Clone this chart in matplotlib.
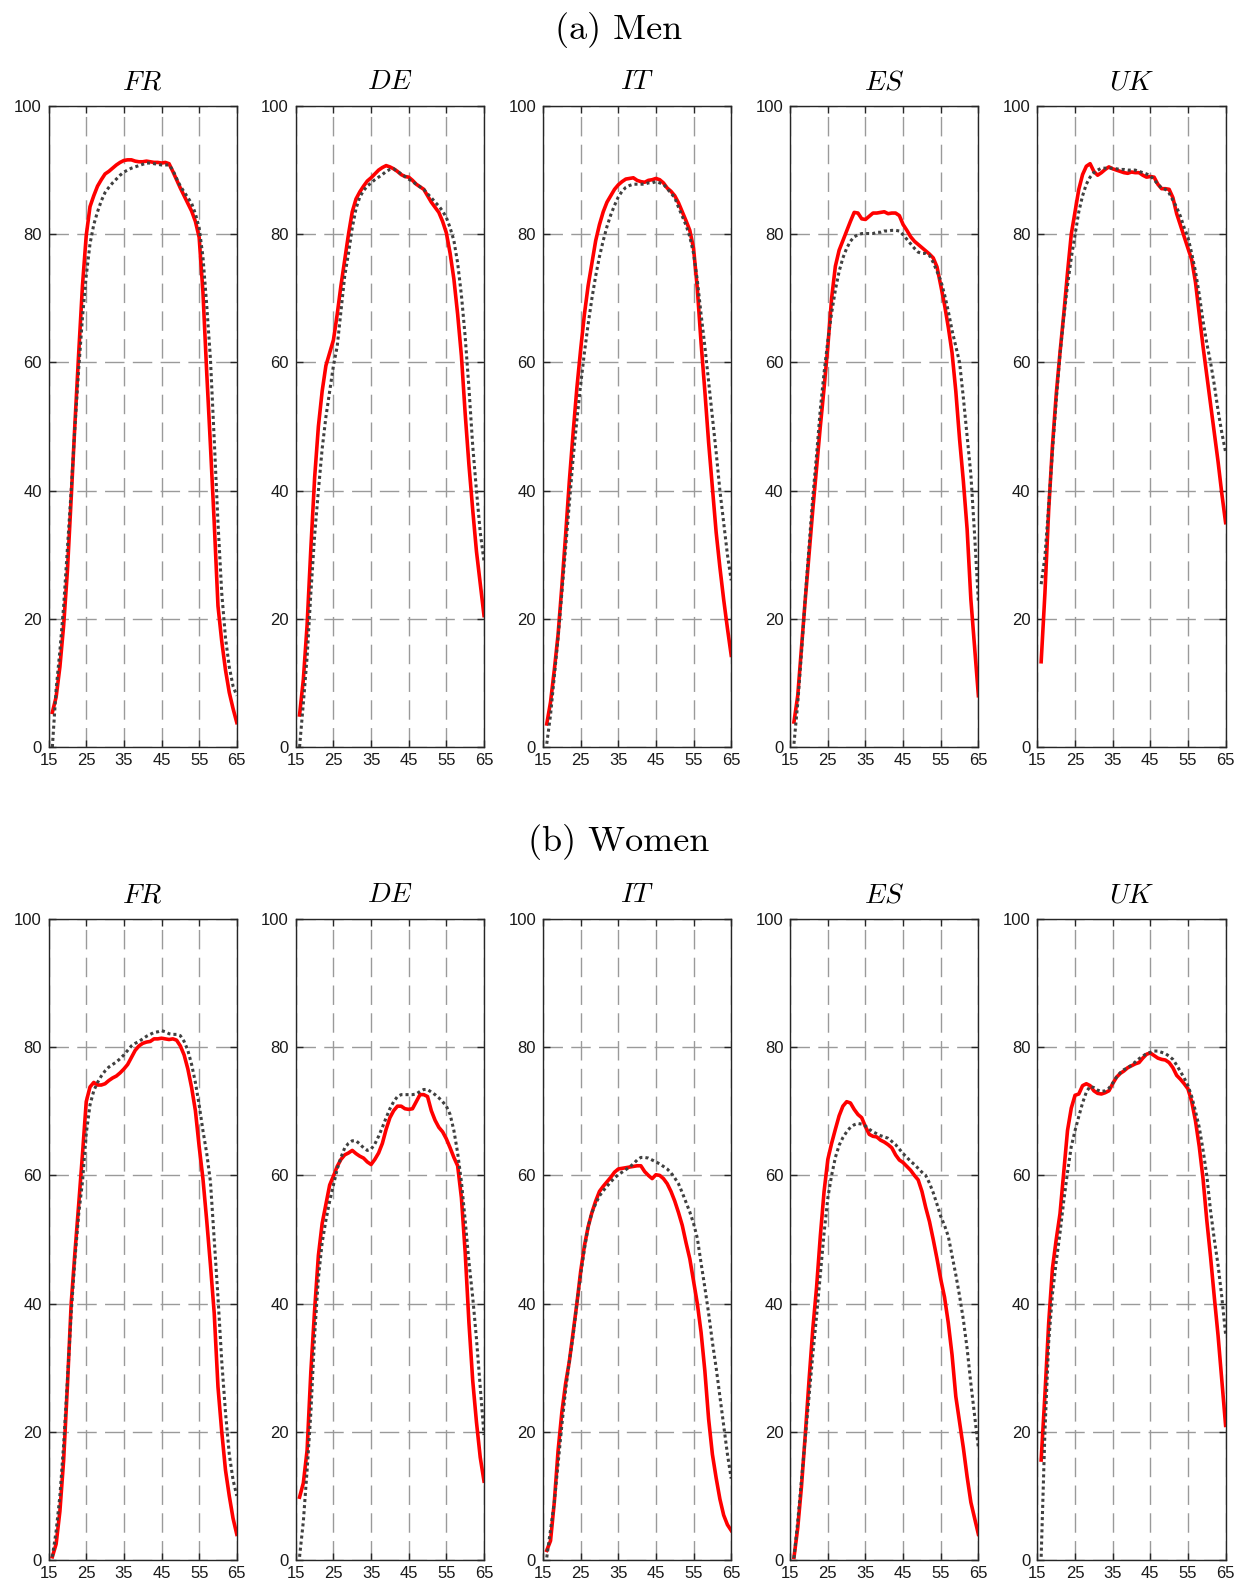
import numpy as np
import matplotlib
matplotlib.use('Agg')
import matplotlib.pyplot as plt

# ages on the x axis (one value per year)
ages = list(range(16, 66))
countries = ['FR', 'DE', 'IT', 'ES', 'UK']

# ---------------- men ----------------
fr_men_solid = [5.4, 7.8, 12.5, 19, 27.5, 38.8, 50.5, 61.5, 72, 79.8,
                84.3, 86, 87.5, 88.5, 89.4, 89.8, 90.3, 90.8, 91.2, 91.5,
                91.6, 91.6, 91.4, 91.3, 91.3, 91.4, 91.3, 91.2, 91.2, 91.1,
                91.2, 91.0, 89.8, 88.5, 87.2, 86, 84.8, 83.6, 82, 79.5,
                71, 58.5, 47, 35, 22, 16.5, 12, 8.5, 6, 3.8]
fr_men_dotted = [0, 9, 15, 22, 31, 40, 50, 59, 67, 73.5,
                 78.5, 81.5, 83.5, 85.2, 86.5, 87.3, 88, 88.6, 89.2, 89.7,
                 90, 90.3, 90.5, 90.7, 90.9, 91.1, 91.1, 91, 90.9, 90.8,
                 90.8, 90.8, 90, 88.7, 87.5, 86.6, 85.7, 84.8, 83.2, 81,
                 76.5, 69, 60.5, 48, 35, 24, 17, 12.5, 9.5, 8]

de_men_solid = [5, 10.5, 19, 31, 42, 50, 55.5, 59.5, 61.5, 63.5,
                67.5, 72, 76, 80, 83.5, 85.5, 86.6, 87.5, 88.3, 88.8,
                89.4, 90, 90.4, 90.7, 90.5, 90.2, 89.8, 89.3, 89, 88.9,
                88.4, 87.8, 87.4, 87, 86, 85, 84.2, 83.4, 82, 80.2,
                77, 73, 67.5, 61, 52, 44, 37, 30.5, 25.5, 20.5]
de_men_dotted = [0, 6.8, 14, 24, 33, 40, 46.5, 51.5, 55.5, 59.5,
                 62.5, 68, 73.5, 77, 81, 84, 85.8, 86.8, 87.5, 88,
                 88.5, 88.9, 89.3, 89.8, 90.1, 90.2, 89.8, 89.4, 89, 88.6,
                 88.2, 87.8, 87.4, 87, 86.3, 85.7, 85, 84.4, 83.6, 82.6,
                 81, 79, 75.5, 70.5, 64, 56, 47, 40, 33.5, 29]

it_men_solid = [3.6, 7, 12, 17.5, 25, 33, 41.5, 49, 56, 62,
                67.5, 72, 75.5, 79, 81.5, 83.5, 85, 86, 87, 87.7,
                88.2, 88.6, 88.7, 88.8, 88.4, 88.2, 88.1, 88.4, 88.5, 88.7,
                88.5, 88, 87.2, 86.7, 86, 84.9, 83.5, 82.1, 80.6, 77.8,
                71.5, 63, 55.5, 47.5, 40.5, 33.5, 28, 23, 18.5, 14.3]
it_men_dotted = [0.5, 5, 11, 17, 24, 31, 38, 45, 51, 56.5,
                 61.5, 66, 70, 73.5, 76.5, 79, 81.2, 83, 84.5, 85.8,
                 86.7, 87.3, 87.6, 87.8, 87.8, 87.8, 87.8, 88, 88, 88.2,
                 88, 87.8, 87.1, 86.4, 85.7, 84.2, 82.8, 81.4, 79.6, 77,
                 72.8, 67.5, 62.5, 57, 51.5, 46, 40, 35, 30, 26]

es_men_solid = [3.9, 8, 15.5, 23, 30, 37, 43.5, 50, 56, 62.5,
                70, 75, 77.5, 79, 80.5, 82, 83.4, 83.3, 82.4, 82.3,
                82.8, 83.3, 83.3, 83.4, 83.5, 83.2, 83.3, 83.3, 82.9, 81.5,
                80.6, 79.6, 78.9, 78.4, 77.9, 77.4, 76.9, 76.3, 74.9, 72,
                69, 65.5, 61.5, 55.5, 48, 41.5, 34, 23, 15.5, 8]
es_men_dotted = [0.5, 6.8, 14.7, 23.3, 31.2, 39, 45.5, 52.7, 58.4, 63.4,
                 67.7, 71.3, 74.2, 76.3, 77.8, 78.9, 79.6, 79.9, 80.1, 80.1,
                 80.1, 80.1, 80.3, 80.3, 80.5, 80.5, 80.6, 80.6, 80.5, 79.9,
                 79.2, 78.5, 77.8, 77.2, 77, 77, 76.7, 75.6, 74.2, 72.8,
                 70.6, 68, 65, 62.5, 60, 54.5, 48.5, 42.5, 33, 22.6]

uk_men_solid = [13.3, 24, 37, 47, 55, 61.5, 67.5, 74, 80, 83.5,
                87, 89.3, 90.6, 91, 89.8, 89.2, 89.6, 90.1, 90.5, 90.2,
                90, 89.8, 89.6, 89.5, 89.7, 89.6, 89.6, 89.2, 88.9, 89,
                88.9, 87.8, 87.1, 87.1, 87, 85.7, 83.2, 81.4, 79.6, 77.8,
                76, 72.5, 67.5, 62.5, 58, 53.5, 49, 44.5, 39.5, 35]
uk_men_dotted = [25.4, 29.7, 37.6, 46.2, 54.1, 61.3, 67, 72, 76.3, 79.9,
                 83.5, 86, 87.8, 88.9, 89.6, 90, 90.3, 90.3, 90.3, 90.3,
                 90.2, 90.1, 90.1, 90, 90, 90, 89.8, 89.6, 89.4, 89.1,
                 88.5, 87.8, 87.2, 87, 86.4, 85.3, 84.2, 82.8, 81, 79.5,
                 77, 74.2, 70.6, 66.5, 63, 60, 56.5, 52.5, 49, 46]

# ---------------- women ----------------
fr_women_solid = [0.5, 2.5, 7.6, 15.6, 27.2, 40, 48, 55.5, 63.3, 71.5,
                  73.8, 74.5, 74.1, 74.1, 74.3, 74.8, 75.2, 75.5, 76, 76.6,
                  77.3, 78.4, 79.5, 80.2, 80.6, 80.8, 80.9, 81.3, 81.3, 81.4,
                  81.3, 81.2, 81.3, 81.1, 80.2, 78.8, 76.6, 73.7, 70.1, 64.5,
                  59.5, 53, 46, 38.5, 27, 20, 14, 10, 6.5, 4]
fr_women_dotted = [0.5, 4.5, 10, 18, 28, 38.5, 47, 54, 59, 66.5,
                   71, 73.2, 74.5, 75.5, 76.3, 76.9, 77.3, 77.7, 78.2, 78.8,
                   79.5, 80.2, 80.6, 80.9, 81.3, 81.7, 82, 82.3, 82.4, 82.6,
                   82.4, 82.1, 82, 82, 81.8, 80.9, 79.5, 77.3, 74.5, 71,
                   67, 63.5, 59, 50, 41, 31, 23, 16.5, 12.5, 10]

de_women_solid = [9.8, 12, 17.1, 29.4, 39, 47.5, 52.5, 55.5, 58.5, 59.9,
                  61.4, 62.5, 63.2, 63.5, 63.9, 63.4, 63, 62.7, 62.1, 61.7,
                  62.5, 63.5, 65, 67.2, 69, 70.1, 70.8, 70.8, 70.4, 70.3,
                  70.4, 71.5, 72.6, 72.6, 72.3, 70.1, 68.6, 67.5, 66.8, 65.7,
                  64.3, 62.8, 61.5, 56.5, 48, 37, 28, 21.5, 16, 12.3]
de_women_dotted = [0.5, 6, 14, 23, 35, 44, 49.5, 53, 56, 58.5,
                   61, 62.8, 64.3, 65, 65.4, 65.4, 64.9, 64.3, 63.9, 64.1,
                   64.9, 66.1, 67.5, 69, 70.4, 71.5, 72.3, 72.6, 72.6, 72.6,
                   72.6, 72.7, 73.1, 73.4, 73.4, 73, 72.6, 72.1, 71.5, 70.8,
                   69.5, 67, 63.5, 59, 53, 46.5, 41, 34.5, 27, 19.5]

it_women_solid = [1.5, 3, 9, 17, 23, 27.5, 31, 35.5, 40, 45,
                  49, 52, 54.2, 56, 57.5, 58.3, 59, 59.7, 60.5, 61,
                  61.1, 61.2, 61.3, 61.4, 61.5, 61.5, 60.6, 60, 59.5, 60.1,
                  60, 59.5, 58.7, 57.5, 56, 54.2, 52.2, 49.5, 47, 43.5,
                  40, 35.5, 29.5, 22, 16.5, 12.8, 9.5, 7, 5.5, 4.6]
it_women_dotted = [0.4, 4.7, 9, 15, 21, 26.5, 31, 35, 40, 44.5,
                   48.5, 52, 54.2, 55.6, 56.8, 57.6, 58.3, 59, 59.6, 60.1,
                   60.5, 60.9, 61.3, 61.8, 62.4, 62.8, 62.8, 62.7, 62.4, 62.1,
                   61.8, 61.4, 61, 60.4, 59.6, 58.7, 57.3, 55.8, 54.3, 52.5,
                   50.2, 46.3, 42.5, 38.5, 34, 30, 25.5, 21, 16.5, 12.7]

es_women_solid = [0.4, 5, 11.5, 19.5, 28, 36, 42.5, 50.5, 57.5, 62.5,
                  65, 67.2, 69.3, 70.8, 71.5, 71.3, 70.3, 69.5, 69, 67.6,
                  66.4, 66.1, 66, 65.5, 65.2, 64.8, 64.3, 63.2, 62.4, 62,
                  61.4, 60.8, 60, 59.3, 57.5, 55, 52.8, 50, 47, 43.8,
                  41, 37, 32, 25.5, 21.5, 17.5, 13, 9, 6.5, 4]
es_women_dotted = [0.3, 6, 12.5, 19, 25.5, 32, 38, 44.5, 51, 56.5,
                   60, 62.8, 64.7, 65.9, 66.8, 67.5, 67.9, 68.1, 68, 67.7,
                   67.2, 66.8, 66.5, 66.2, 66, 65.8, 65.3, 64.8, 64.1, 63.4,
                   62.8, 62.2, 61.7, 61.1, 60.5, 60, 58.8, 57.3, 55.5, 53.6,
                   52.2, 50.5, 47.5, 44.5, 41.2, 37.5, 33, 27.5, 22.5, 17.5]

uk_women_solid = [15.6, 25.8, 37, 45.5, 50, 54, 60.5, 67, 70.5, 72.5,
                  72.7, 74, 74.3, 74, 73.2, 72.8, 72.7, 72.9, 73.2, 74.3,
                  75.3, 75.9, 76.3, 76.8, 77.1, 77.4, 77.6, 78.3, 78.9, 79.1,
                  78.7, 78.3, 78.1, 78, 77.6, 76.8, 75.6, 75, 74.3, 73.5,
                  71.5, 68.5, 64.5, 59.5, 53, 47.3, 41, 35, 28, 21]
uk_women_dotted = [0.5, 20, 34, 41.5, 46.5, 51, 56, 60.5, 64.5, 67,
                   69.2, 71.3, 73, 73.9, 73.7, 73.3, 73.1, 73.2, 73.6, 74.4,
                   75.3, 76, 76.5, 76.8, 77.2, 77.7, 78.2, 78.6, 79, 79.2,
                   79.4, 79.4, 79.2, 79, 78.6, 78.1, 77.2, 76.2, 75.2, 74,
                   72.3, 70, 67.5, 64, 60, 54.5, 50, 46, 41, 35.2]

men_solid = [fr_men_solid, de_men_solid, it_men_solid, es_men_solid, uk_men_solid]
men_dotted = [fr_men_dotted, de_men_dotted, it_men_dotted, es_men_dotted, uk_men_dotted]
women_solid = [fr_women_solid, de_women_solid, it_women_solid, es_women_solid, uk_women_solid]
women_dotted = [fr_women_dotted, de_women_dotted, it_women_dotted, es_women_dotted, uk_women_dotted]

plt.rcParams['mathtext.fontset'] = 'cm'
# Helvetica look-alike for the tick labels
plt.rcParams['font.family'] = ['Liberation Sans', 'DejaVu Sans']

fig = plt.figure(figsize=(12.37, 15.87), dpi=100)
W, H = 1237.0, 1587.0

# panel geometry in pixels (left of first panel, step, width, tops of the two rows)
left0, step, width = 48.6, 247.2, 188.2
row_tops = [106.0, 919.0]
height = 641.0


def draw_panel(ax, solid, dotted, name):
    ax.plot(ages, solid, color='#ff0000', linewidth=2.6, solid_joinstyle='round')
    ax.plot(ages, dotted, color='#404040', linewidth=2.2, linestyle=(0, (1, 1)))
    ax.set_xlim(15, 65)
    ax.set_ylim(0, 100)
    ax.set_xticks([15, 25, 35, 45, 55, 65])
    ax.set_yticks([0, 20, 40, 60, 80, 100])
    ax.grid(True, color='#9a9a9a', linestyle=(0, (14, 6)), linewidth=1.0)
    ax.set_axisbelow(True)
    ax.tick_params(direction='in', top=True, right=True, length=5, width=1,
                   color='#262626', labelcolor='#1a1a1a', labelsize=12)
    ax.tick_params(axis='x', pad=4)
    ax.tick_params(axis='y', pad=5)
    for s in ax.spines.values():
        s.set_color('#262626')
        s.set_linewidth(1.0)
    ax.set_title('$' + name + '$', fontsize=20, pad=12)


for r, (solids, dotteds) in enumerate([(men_solid, men_dotted), (women_solid, women_dotted)]):
    top = row_tops[r]
    for i, name in enumerate(countries):
        ax = fig.add_axes([(left0 + step * i) / W, 1 - (top + height) / H, width / W, height / H])
        draw_panel(ax, solids[i], dotteds[i], name)

fig.text(0.5, 1 - 30 / H, '(a) Men', fontfamily='cmr10', fontsize=26, ha='center', va='center')
fig.text(0.5, 1 - 842 / H, '(b) Women', fontfamily='cmr10', fontsize=26, ha='center', va='center')

fig.savefig('out.png', dpi=100)
